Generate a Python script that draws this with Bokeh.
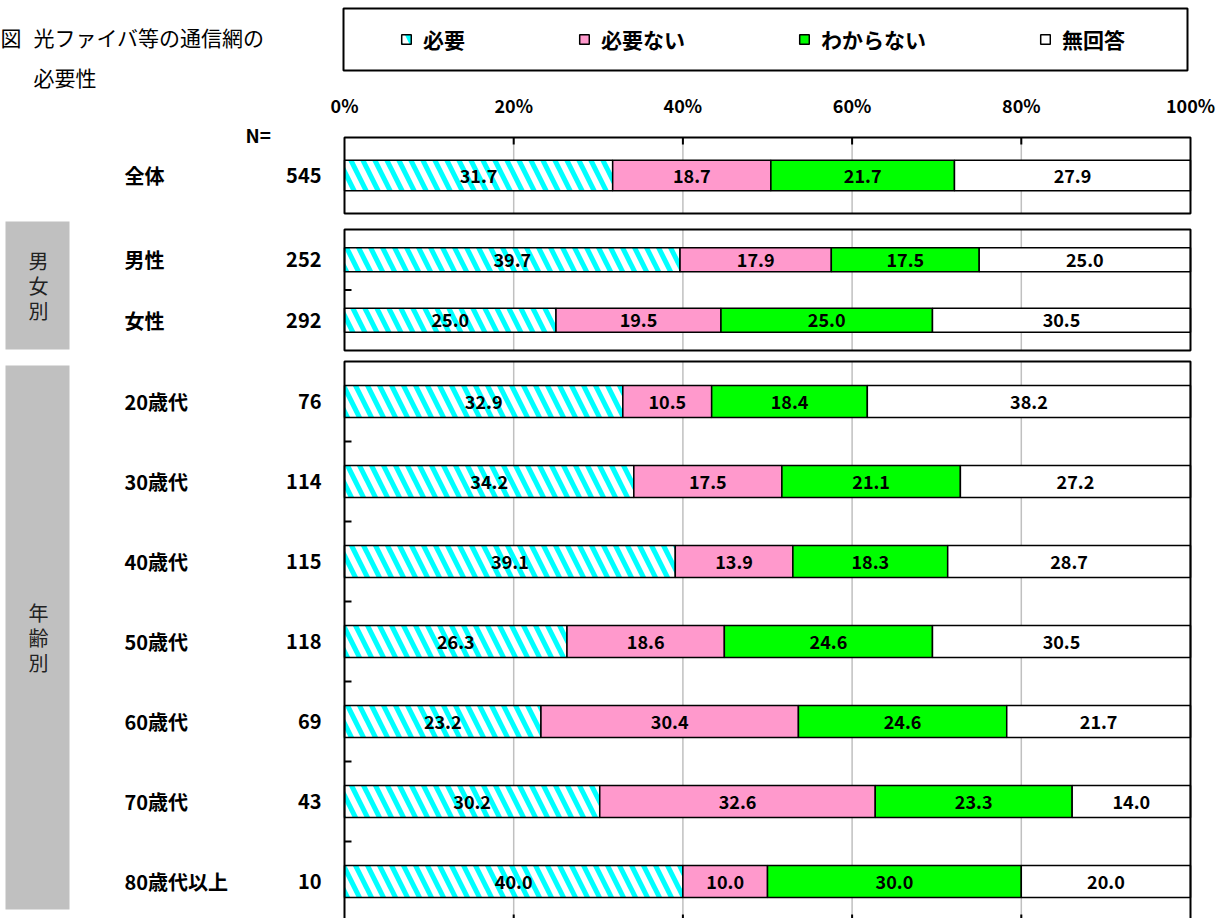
from bokeh.plotting import figure
from bokeh.models import Range1d, Legend, LegendItem, ColumnDataSource
from bokeh.core.properties import value
from bokeh.embed import file_html
from bokeh.resources import INLINE

# ---------------- data ----------------
title_prefix = "図"
title_lines = ["光ファイバ等の通信網の", "必要性"]
categories = ["全体", "男性", "女性", "20歳代", "30歳代", "40歳代",
              "50歳代", "60歳代", "70歳代", "80歳代以上"]
n_values = [545, 252, 292, 76, 114, 115, 118, 69, 43, 10]
series_names = ["必要", "必要ない", "わからない", "無回答"]
s_hitsuyo = [31.7, 39.7, 25.0, 32.9, 34.2, 39.1, 26.3, 23.2, 30.2, 40.0]
s_hitsuyo_nai = [18.7, 17.9, 19.5, 10.5, 17.5, 13.9, 18.6, 30.4, 32.6, 10.0]
s_wakaranai = [21.7, 17.5, 25.0, 18.4, 21.1, 18.3, 24.6, 24.6, 23.3, 30.0]
s_mukaitou = [27.9, 25.0, 30.5, 38.2, 27.2, 28.7, 30.5, 21.7, 14.0, 20.0]
group_labels = ["", "男女別", "年齢別"]
group_sizes = [1, 2, 7]
tick_values = [0, 20, 40, 60, 80, 100]
tick_labels = ["0%", "20%", "40%", "60%", "80%", "100%"]
n_header = "N="

# ---------------- layout ----------------
W, H = 1217, 918
PX0, PX100 = 344, 1190
K = (PX100 - PX0) / 100.0


def xd(px):
    return (px - PX0) / K


def yd(py):
    return py


FONT = "Noto Sans CJK JP"
JP = value(FONT)
panel_tops = [137, 229, 361]
row_pitch = [76, 60.5, 80]
group_boxes = [None, (221, 349), (365, 909)]

p = figure(width=W, height=H, x_range=Range1d(xd(0), xd(W)),
           y_range=Range1d(H, 0), x_axis_type=None, y_axis_type=None,
           output_backend="svg", toolbar_location=None, min_border=0)
p.outline_line_color = None
p.grid.visible = False
p.background_fill_color = "white"
p.border_fill_color = "white"

# row positions
ys, hs = [], []
panels = []
for g, size in enumerate(group_sizes):
    top, pitch = panel_tops[g], row_pitch[g]
    for i in range(size):
        ys.append(yd(top + pitch * (i + 0.5)))
        hs.append(pitch * 0.4)
    panels.append((yd(top), yd(top + pitch * size), pitch, size))

# panel backgrounds
p.quad(left=[0] * 3, right=[100] * 3, top=[a for a, b, c, d in panels],
       bottom=[b for a, b, c, d in panels], fill_color="white", line_color=None)

# grid lines
gx0, gy0, gx1, gy1 = [], [], [], []
for top, bot, pitch, size in panels:
    for t in tick_values[1:-1]:
        gx0.append(t); gx1.append(t); gy0.append(top); gy1.append(bot)
p.segment(gx0, gy0, gx1, gy1, line_color="#C0C0C0", line_width=1.5)

# stacked bars (100% stacked: each row normalised to its total)
series = [s_hitsuyo, s_hitsuyo_nai, s_wakaranai, s_mukaitou]
totals = [sum(vals) for vals in zip(*series)]
fills = ["white", "#FF99CC", "#00FF00", "white"]
renderers = []
cum = [0.0] * len(categories)
lab_x, lab_y, lab_t = [], [], []
for si, vals in enumerate(series):
    left = cum[:]
    right = [a + b / t * 100.0 for a, b, t in zip(cum, vals, totals)]
    src = ColumnDataSource(dict(y=ys, l=left, r=right, h=hs))
    kw = {}
    if si == 0:
        kw = dict(hatch_pattern="\\", hatch_color="#00FFFF", hatch_weight=5,
                  hatch_scale=24)
    r = p.hbar(y="y", left="l", right="r", height="h", source=src,
               fill_color=fills[si], line_color="black", line_width=1.5, **kw)
    renderers.append(r)
    for i, v in enumerate(vals):
        lab_x.append((left[i] + right[i]) / 2)
        lab_y.append(ys[i])
        lab_t.append(f"{v:.1f}")
    cum = right

p.text(x=lab_x, y=lab_y, text=lab_t, text_align="center", text_baseline="middle",
       text_font=JP, text_font_style="bold", text_font_size="18px", text_color="black")

# panel borders and ticks
p.quad(left=[0] * 3, right=[100] * 3, top=[a for a, b, c, d in panels],
       bottom=[b for a, b, c, d in panels], fill_color=None, line_color="black",
       line_width=2)
tx0, ty0, tx1, ty1 = [], [], [], []
for top, bot, pitch, size in panels:
    for i in range(1, size):
        yy = top + pitch * i
        tx0.append(0); tx1.append(xd(PX0 + 7)); ty0.append(yy); ty1.append(yy)
for t in tick_values[1:-1]:
    tx0.append(t); tx1.append(t); ty0.append(panels[0][0]); ty1.append(panels[0][0] + 7)
    tx0.append(t); tx1.append(t); ty0.append(panels[2][1]); ty1.append(panels[2][1] - 7)
p.segment(tx0, ty0, tx1, ty1, line_color="black", line_width=2)

# tick labels
p.text(x=tick_values, y=[yd(104)] * len(tick_values), text=tick_labels,
       text_align="center", text_baseline="middle", text_font=JP,
       text_font_style="bold", text_font_size="18px", text_color="black")

# category labels and N
p.text(x=[xd(124)] * len(categories), y=ys, text=categories, text_align="left",
       text_baseline="middle", text_font=JP, text_font_style="bold",
       text_font_size="20px", text_color="black")
p.text(x=[xd(321)] * len(categories), y=ys, text=[str(v) for v in n_values],
       text_align="right", text_baseline="middle", text_font=JP,
       text_font_style="bold", text_font_size="20px", text_color="black")
p.text(x=[xd(245)], y=[yd(134)], text=[n_header], text_align="left",
       text_baseline="middle", text_font=JP, text_font_style="bold",
       text_font_size="19px", text_color="black")

# group boxes with vertical labels
bl, br, bt, bb = [], [], [], []
gcx, gcy, gct = [], [], []
for g, box in enumerate(group_boxes):
    if box is None:
        continue
    bl.append(xd(5)); br.append(xd(69)); bt.append(yd(box[0])); bb.append(yd(box[1]))
    mid = yd((box[0] + box[1]) / 2)
    chars = list(group_labels[g])
    for j, ch in enumerate(chars):
        gcx.append(xd(38)); gcy.append(mid + (j - (len(chars) - 1) / 2) * 25); gct.append(ch)
p.quad(left=bl, right=br, top=bt, bottom=bb, fill_color="#C0C0C0", line_color=None)
p.text(x=gcx, y=gcy, text=gct, text_align="center", text_baseline="middle",
       text_font=JP, text_font_size="20px", text_color="#222222")

# title
p.text(x=[xd(0)], y=[yd(36)], text=[title_prefix], text_align="left",
       text_baseline="middle", text_font=JP, text_font_size="21px", text_color="black")
p.text(x=[xd(33)] * 2, y=[yd(36), yd(76)], text=title_lines, text_align="left",
       text_baseline="middle", text_font=JP, text_font_size="21px", text_color="black")

# legend frame
p.quad(left=[xd(343)], right=[xd(1187)], top=[yd(8)], bottom=[yd(70)],
       fill_color=None, line_color="black", line_width=2)

legend = Legend(items=[LegendItem(label=series_names[i], renderers=[renderers[i]])
                       for i in range(4)],
                orientation="horizontal", location=(400, 864),
                glyph_width=12, glyph_height=12, label_standoff=11, spacing=113,
                padding=0, margin=0, border_line_alpha=0, background_fill_alpha=0,
                label_text_font=FONT, label_text_font_style="bold",
                label_text_color="black",
                label_text_font_size="21px", label_height=20)
p.add_layout(legend)

open("out.html", "w").write(file_html(p, INLINE))
